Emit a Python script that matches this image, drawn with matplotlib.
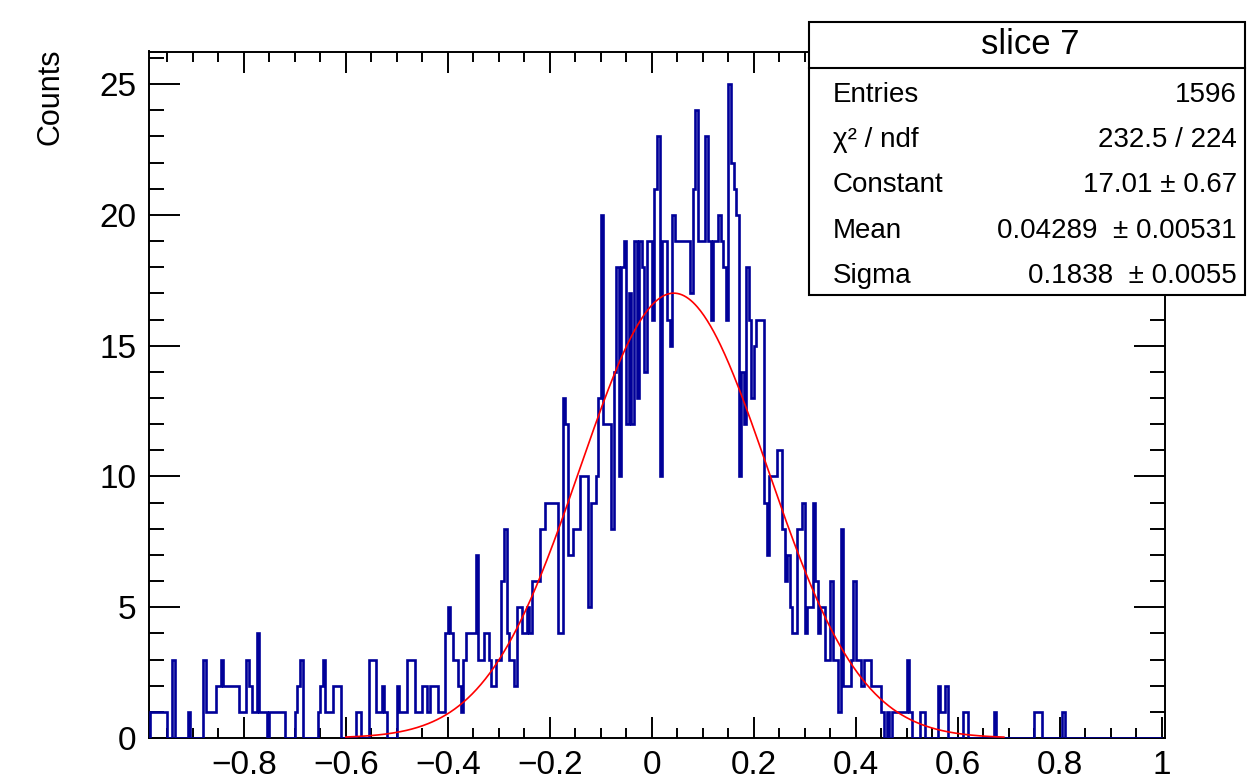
import numpy as np
import matplotlib
matplotlib.use("Agg")
import matplotlib.pyplot as plt
from matplotlib.patches import Rectangle
from matplotlib.lines import Line2D

plt.rcParams['font.family'] = ['Liberation Sans', 'DejaVu Sans']

# residual histogram, 400 bins of width 0.005 on [-1, 1]
bin_lo, bin_hi, n_bins = -1.0, 1.0, 400
counts = [
    0, 0, 0, 1, 1, 1, 1, 1, 1, 1, 0, 0, 3, 0, 0, 0, 0, 0, 1, 0,
    0, 0, 0, 0, 3, 1, 1, 1, 1, 2, 2, 3, 2, 2, 2, 2, 2, 2, 1, 1,
    1, 3, 2, 1, 1, 4, 1, 1, 1, 0, 1, 1, 1, 1, 1, 1, 0, 0, 0, 0,
    1, 2, 3, 0, 0, 0, 0, 0, 0, 1, 2, 3, 1, 1, 1, 2, 2, 2, 0, 0,
    0, 0, 0, 0, 1, 1, 0, 0, 0, 3, 3, 3, 1, 1, 2, 1, 0, 0, 0, 0,
    2, 1, 1, 1, 3, 3, 3, 1, 1, 1, 2, 2, 1, 2, 2, 2, 1, 1, 1, 4,
    5, 4, 3, 3, 2, 1, 3, 4, 4, 4, 4, 7, 3, 3, 4, 4, 3, 2, 2, 3,
    3, 6, 8, 4, 3, 3, 2, 5, 5, 4, 4, 5, 4, 6, 6, 6, 8, 8, 9, 9,
    9, 9, 9, 4, 4, 13, 12, 7, 7, 8, 8, 8, 10, 10, 10, 5, 9, 9, 10, 13,
    20, 12, 12, 12, 8, 14, 18, 10, 18, 19, 12, 17, 12, 19, 13, 19, 18, 14, 19, 19,
    16, 21, 23, 10, 19, 19, 16, 15, 20, 19, 19, 19, 19, 19, 19, 17, 21, 24, 19, 19,
    19, 23, 19, 16, 19, 19, 20, 19, 18, 16, 25, 22, 21, 20, 10, 14, 12, 18, 16, 13,
    15, 16, 16, 16, 9, 7, 10, 10, 10, 11, 11, 8, 6, 7, 5, 4, 4, 8, 8, 9,
    4, 5, 5, 9, 6, 4, 5, 5, 3, 3, 6, 3, 3, 1, 8, 2, 2, 2, 3, 6,
    3, 3, 2, 3, 3, 3, 2, 2, 2, 2, 1, 0, 1, 0, 1, 1, 1, 1, 1, 1,
    3, 1, 0, 0, 0, 1, 1, 0, 0, 0, 0, 0, 2, 1, 1, 2, 0, 0, 0, 0,
    0, 0, 1, 1, 0, 0, 0, 0, 0, 0, 0, 0, 0, 0, 1, 0, 0, 0, 0, 0,
    0, 0, 0, 0, 0, 0, 0, 0, 0, 0, 1, 1, 1, 0, 0, 0, 0, 0, 0, 0,
    0, 1, 0, 0, 0, 0, 0, 0, 0, 0, 0, 0, 0, 0, 0, 0, 0, 0, 0, 0,
    0, 0, 0, 0, 0, 0, 0, 0, 0, 0, 0, 0, 0, 0, 0, 0, 0, 0, 0, 0,
]

# gaussian fit
fit_const, fit_mean, fit_sigma = 17.01, 0.04289, 0.1838
fit_lo, fit_hi = -0.6, 0.69

stats_title = "slice 7"
stats_labels = ["Entries", "χ² / ndf", "Constant", "Mean", "Sigma"]
stats_values = ["1596", "232.5 / 224", "17.01 ± 0.67", "0.04289  ± 0.00531", "0.1838  ± 0.0055"]

x_ticks = [-0.8, -0.6, -0.4, -0.2, 0.0, 0.2, 0.4, 0.6, 0.8, 1.0]
x_tick_labels = ["\u22120.8", "\u22120.6", "\u22120.4", "\u22120.2", "0", "0.2", "0.4", "0.6", "0.8", "1"]
y_ticks = [0, 5, 10, 15, 20, 25]

W, H = 1258, 781
fig = plt.figure(figsize=(W / 100, H / 100), dpi=100)
fig.patch.set_facecolor("white")

def fx(px):
    return px / W

def fy(py):
    return 1 - py / H

frame_l, frame_r, frame_t, frame_b = 149, 1165, 51.5, 738
ax = fig.add_axes([fx(frame_l), fy(frame_b), fx(frame_r - frame_l), (frame_b - frame_t) / H])

edges = np.linspace(bin_lo, bin_hi, n_bins + 1)
ax.stairs(counts, edges, color="#000099", linewidth=1.9, baseline=0, zorder=3)

xf = np.linspace(fit_lo, fit_hi, 600)
ax.plot(xf, fit_const * np.exp(-0.5 * ((xf - fit_mean) / fit_sigma) ** 2),
        color="#ff0000", linewidth=1.2, zorder=4)

ax.set_xlim(-0.986, 1.006)
ax.set_ylim(0, 26.25)

ax.set_xticks(x_ticks)
ax.set_xticklabels(x_tick_labels)
ax.set_xticks(np.arange(-0.95, 1.001, 0.05), minor=True)
ax.set_yticks(y_ticks)
ax.set_yticks(np.arange(0, 27, 1), minor=True)

ax.tick_params(axis="both", which="both", direction="in", top=True, right=True,
               width=1.4, color="black", labelsize=24)
ax.tick_params(axis="x", which="major", length=14.8, pad=9)
ax.tick_params(axis="x", which="minor", length=7.4)
ax.tick_params(axis="y", which="major", length=22, pad=9)
ax.tick_params(axis="y", which="minor", length=11)
for s in ax.spines.values():
    s.set_linewidth(1.4)
    s.set_zorder(2)

fig.text(fx(50), fy(97), "Counts", rotation=90, ha="center", va="center", fontsize=22)

# stats box
bx_l, bx_r, bx_t, bx_b, bx_sep = 809, 1245, 22, 295, 68
fig.add_artist(Rectangle((fx(bx_l), fy(bx_b)), fx(bx_r - bx_l), (bx_b - bx_t) / H,
                         facecolor="white", edgecolor="black", linewidth=1.5, zorder=10))
fig.add_artist(Line2D([fx(bx_l), fx(bx_r)], [fy(bx_sep), fy(bx_sep)], color="black",
                      linewidth=1.5, zorder=11))
fig.text(fx(1030), fy(45), stats_title, ha="center", va="center", fontsize=25, zorder=12)
row_h = (bx_b - bx_sep) / len(stats_labels)
for k, (lab, val) in enumerate(zip(stats_labels, stats_values)):
    yc = bx_sep + (k + 0.5) * row_h + 4
    fig.text(fx(833), fy(yc), lab, ha="left", va="center", fontsize=20, zorder=12)
    fig.text(fx(1237), fy(yc), val, ha="right", va="center", fontsize=20, zorder=12)

fig.savefig("out.png", dpi=100)
